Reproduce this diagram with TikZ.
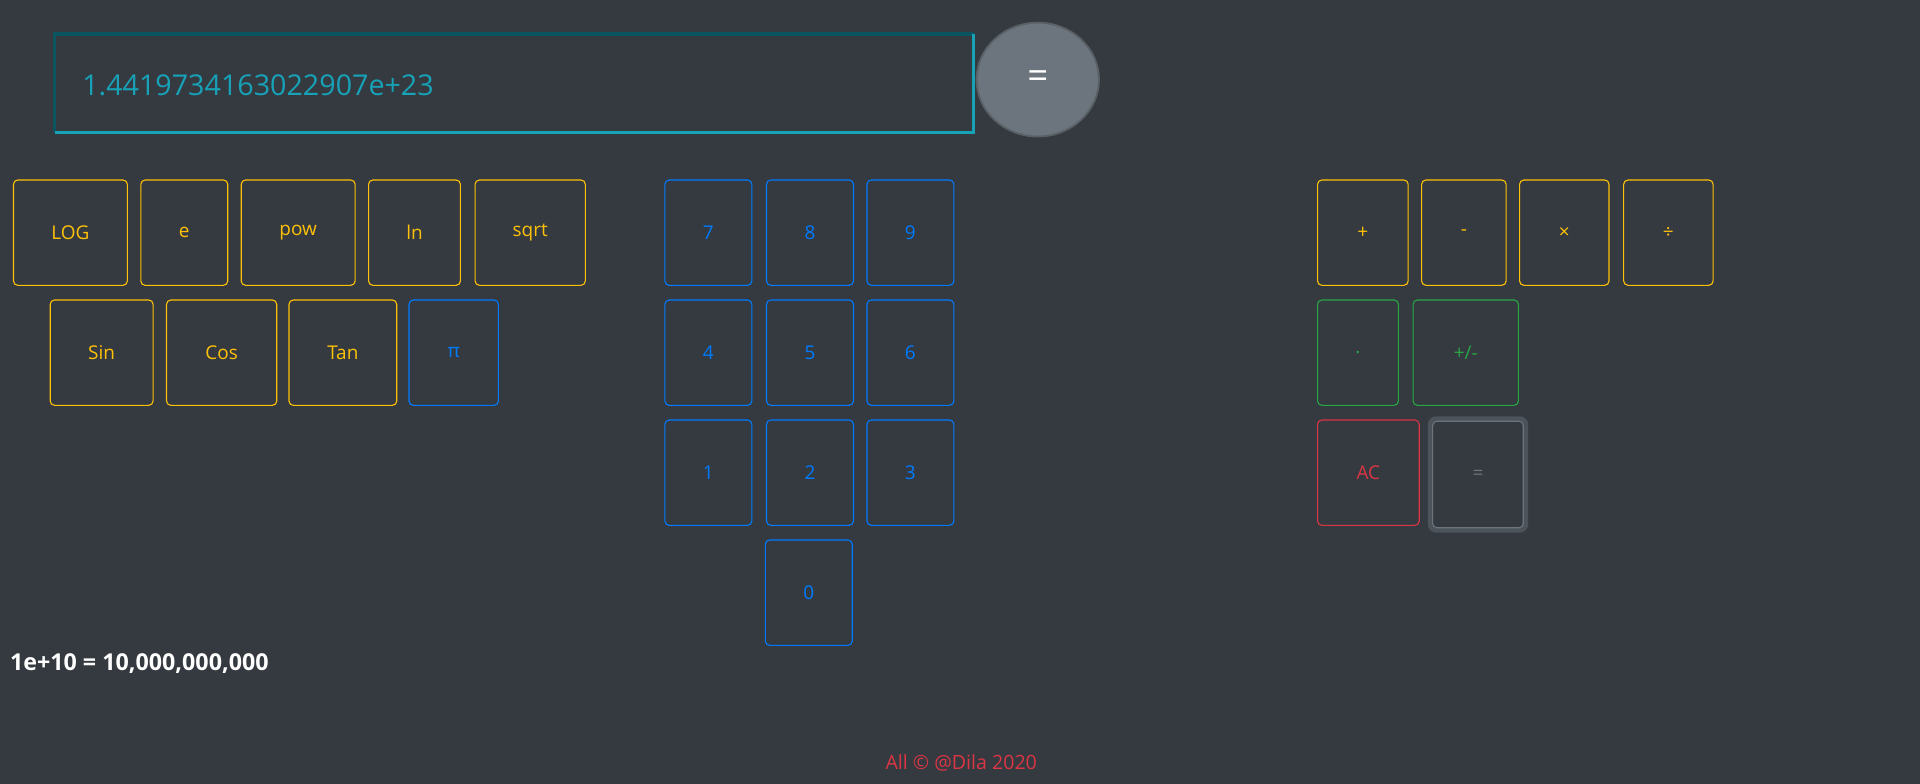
\documentclass[tikz,border=0pt]{standalone}
\usepackage{fontspec}
\setmainfont{Open Sans}
\usetikzlibrary{shapes.geometric}
\definecolor{bg}{HTML}{343A40}
\definecolor{cyel}{HTML}{FFC107}
\definecolor{cblue}{HTML}{007BFF}
\definecolor{cgreen}{HTML}{28A745}
\definecolor{cred}{HTML}{DC3545}
\definecolor{cteal}{HTML}{17A2B8}
\definecolor{cdteal}{HTML}{0B5560}
\definecolor{cgray}{HTML}{6C757D}
\definecolor{cdgray}{HTML}{596066}
\definecolor{cring}{HTML}{4C535A}
\tikzset{
  btn/.style={draw=#1, text=#1, line width=0.9pt, rounded corners=3.5pt, rectangle,
    minimum height=86pt, inner sep=0pt, font=\fontsize{15.5}{18}\selectfont},
  yb/.style={btn=cyel},
  bb/.style={btn=cblue},
  gb/.style={btn=cgreen},
  rb/.style={btn=cred},
}
\begin{document}
\begin{tikzpicture}[x=1pt,y=-1pt]
\useasboundingbox (0,0) rectangle (1568,640);
\fill[bg] (0,0) rectangle (1568,640);
% display
\node[rectangle, minimum width=750pt, minimum height=80pt, inner sep=0pt, fill=bg] (disp) at (420,68) {};
\draw[cdteal, line width=2.6pt] (disp.south west) -- (disp.north west) -- (disp.north east);
\draw[cteal, line width=2.6pt] (disp.south west) -- (disp.south east) -- (disp.north east);
\node[anchor=west, text=cteal, inner sep=0pt, font=\fontsize{23.4}{28}\selectfont] (val) at (67,70) {1.4419734163022907e+23};
% equals circle
\node[ellipse, fill=cgray, draw=cdgray, line width=1.5pt, minimum width=100pt, minimum height=93pt, inner sep=0pt,
  text=white, font=\fontsize{30}{34}\selectfont] (eqc) at (847.5,65) {=};
% scientific row 1
\node[yb, minimum width=93pt] (log) at (57.5,190) {LOG};
\node[yb, minimum width=71pt] (e) at (150.5,190) {e};
\node[yb, minimum width=93pt] (pow) at (243.5,190) {pow};
\node[yb, minimum width=75pt] (ln) at (338.5,190) {ln};
\node[yb, minimum width=90pt] (sqrt) at (433,190) {sqrt};
% scientific row 2
\node[yb, minimum width=84pt] (sin) at (83,288) {Sin};
\node[yb, minimum width=90pt] (cos) at (181,288) {Cos};
\node[yb, minimum width=88pt] (tan) at (280,288) {Tan};
\node[bb, minimum width=73pt] (pi) at (370.5,288) {π};
% digits
\node[bb, minimum width=71pt] (n7) at (578.5,190) {7};
\node[bb, minimum width=71pt] (n8) at (661.5,190) {8};
\node[bb, minimum width=71pt] (n9) at (743.5,190) {9};
\node[bb, minimum width=71pt] (n4) at (578.5,288) {4};
\node[bb, minimum width=71pt] (n5) at (661.5,288) {5};
\node[bb, minimum width=71pt] (n6) at (743.5,288) {6};
\node[bb, minimum width=71pt] (n1) at (578.5,386) {1};
\node[bb, minimum width=71pt] (n2) at (661.5,386) {2};
\node[bb, minimum width=71pt] (n3) at (743.5,386) {3};
\node[bb, minimum width=71pt] (n0) at (660.5,484) {0};
% operators
\node[yb, minimum width=74pt] (plus) at (1113,190) {+};
\node[yb, minimum width=69pt] (minus) at (1195.5,190) {-};
\node[yb, minimum width=73pt] (times) at (1277.5,190) {×};
\node[yb, minimum width=73pt] (div) at (1362.5,190) {÷};
\node[gb, minimum width=66pt] (dot) at (1109,288) {.};
\node[gb, minimum width=86pt] (sign) at (1197,288) {+/-};
\node[rb, minimum width=83pt] (ac) at (1117.5,386) {AC};
\node[rectangle, draw=cring, line width=4pt, rounded corners=5pt, minimum width=78pt, minimum height=91pt] (eqring) at (1207,387.5) {};
\node[btn=cgray, minimum width=74pt, minimum height=87pt] (eq) at (1207,387.5) {=};
% result line
\node[anchor=west, text=white, inner sep=0pt, font=\bfseries\fontsize{19}{23}\selectfont] (res) at (8,542) {1e+10 = 10,000,000,000};
% footer
\node[text=cred, inner sep=0pt, font=\fontsize{16}{19}\selectfont] (foot) at (785,623) {All © @Dila 2020};
\end{tikzpicture}
\end{document}
